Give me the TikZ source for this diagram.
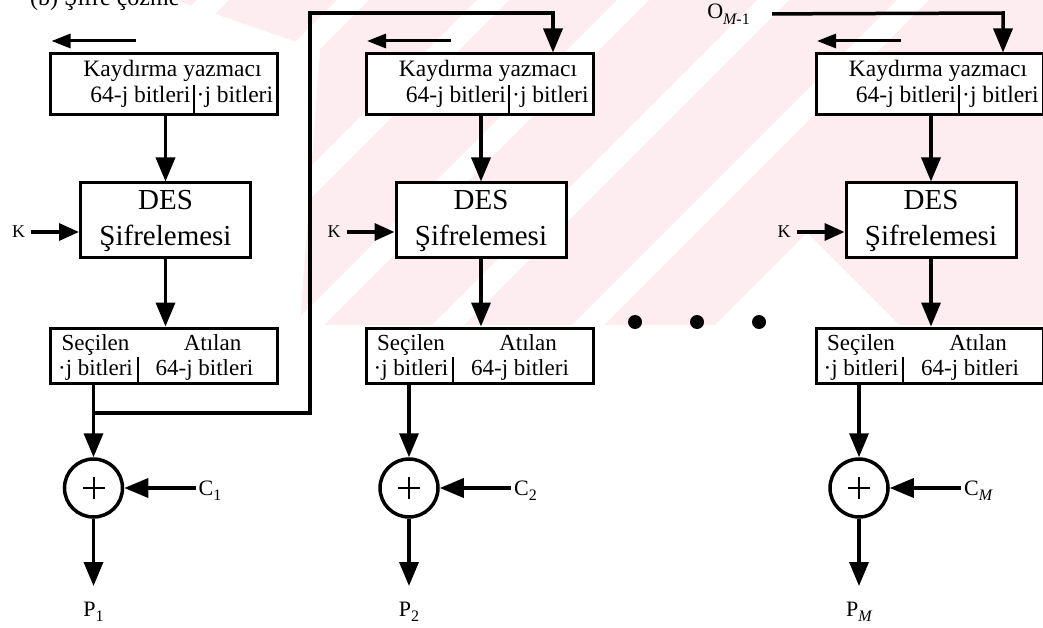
\documentclass[tikz,border=0pt]{standalone}
\usepackage{fontspec}
\setmainfont{Liberation Serif}
\usetikzlibrary{arrows.meta}

\definecolor{wmpink}{RGB}{253,236,240}

\newcommand\subs[1]{\raisebox{-0.25em}{\fontsize{16}{16}\selectfont #1}}
\newcommand\regfont{\fontsize{23.5}{26}\selectfont}
\newcommand\selfont{\fontsize{23}{26}\selectfont}
\newcommand\desfont{\fontsize{29}{32}\selectfont}
\newcommand\lblfont{\fontsize{22}{24}\selectfont}
\newcommand\kfont{\fontsize{18}{20}\selectfont}

\tikzset{
  blockbox/.style={draw, fill=white, line width=3pt, inner sep=0pt},
  wire/.style={line width=3.5pt},
  fwd/.style={-{Triangle[length=24pt,width=19pt]}},
  kfwd/.style={-{Triangle[length=20pt,width=17pt]}},
  shiftarrow/.style={line width=3pt, -{Triangle[length=19pt,width=14pt]}},
  txt/.style={inner sep=0pt, anchor=base},
  divider/.style={line width=2pt},
}

% One decryption stage of the CFB chain.
% #1 name prefix, #2 centre x of the DES block, #3 ciphertext label, #4 plaintext label
\newcommand\cfbstage[4]{%
  % shift register
  \node[blockbox, minimum width=227pt, minimum height=61pt] (#1reg) at ({#2-1.5},84.5) {};
  \node[txt] (#1rega) at ({#2+7},77) {\regfont Kaydırma yazmacı};
  \node[txt, anchor=base east] (#1regb) at ({#2+25},103) {\regfont 64-j bitleri};
  \node[txt, anchor=base west] (#1regc) at ({#2+31},103) {\regfont ·j bitleri};
  \coordinate (#1bar) at ({#2+28},85);
  \draw[divider] (#1bar) -- (#1bar |- #1reg.south);
  % shift direction
  \coordinate (#1sa) at ({#2-30},41);
  \coordinate (#1sb) at ({#2-114},41);
  \draw[shiftarrow] (#1sa) -- (#1sb);
  \coordinate (#1in) at ({#2+72},13);
  % DES block
  \node[blockbox, minimum width=170pt, minimum height=74pt] (#1des) at (#2,220) {};
  \node[txt] (#1desa) at (#2,210) {\desfont DES};
  \node[txt] (#1desb) at (#2,245) {\desfont Şifrelemesi};
  \draw[wire,fwd] (#1reg.south -| #1des) -- (#1des.north);
  % key input
  \node[inner sep=2pt] (#1k) at ({#2-147},232) {\kfont K};
  \draw[wire,kfwd,shorten <=4pt] (#1k.east) -- (#1k.east -| #1des.west);
  % select / discard
  \node[blockbox, minimum width=227pt, minimum height=55pt] (#1sel) at ({#2-1.5},355.5) {};
  \node[txt] (#1sela) at ({#2-70},350) {\selfont Seçilen};
  \node[txt] (#1selb) at ({#2-70},375) {\selfont ·j bitleri};
  \node[txt] (#1selc) at ({#2+47},350) {\selfont Atılan};
  \node[txt] (#1seld) at ({#2+39},375) {\selfont 64-j bitleri};
  \coordinate (#1sbar) at ({#2-28},357);
  \draw[divider] (#1sbar) -- (#1sbar |- #1sel.south);
  \draw[wire,fwd] (#1des.south) -- (#1sel.north -| #1des);
  % XOR
  \node[circle, draw, line width=3.5pt, minimum size=58pt, inner sep=0pt, fill=white] (#1x) at ({#2-72},488) {};
  \draw[line width=2pt] ([xshift=-11pt]#1x.center) -- ([xshift=11pt]#1x.center);
  \draw[line width=2pt] ([yshift=-11pt]#1x.center) -- ([yshift=11pt]#1x.center);
  \draw[wire,fwd] (#1sel.south -| #1x) -- (#1x.north);
  \node[anchor=base west, inner sep=0pt] (#1c) at ({#2+33},495) {\lblfont #3};
  \draw[wire,fwd,shorten <=3pt] (#1x.east -| #1c.west) -- (#1x.east);
  \node[anchor=base, inner sep=0pt] (#1p) at ({#2-72},616) {\lblfont #4};
  \coordinate (#1tip) at ({#2-72},586);
  \draw[wire,fwd] (#1x.south) -- (#1tip);
}

\begin{document}
\begin{tikzpicture}[x=1pt, y=-1pt]
  \useasboundingbox (0,0) rectangle (1043,628);

  % faint striped backdrop
  \begin{scope}
    \clip (175,0) -- (1043,0) -- (1043,325) -- (300,325) -- (320,50) -- cycle;
    \fill[wmpink] (0,0) rectangle (1043,325);
    \foreach \c in {213,353,493,633,773,913}
      \fill[white] ({\c-16},0) -- ({\c+16},0) -- ({\c+16-325},325) -- ({\c-16-325},325) -- cycle;
    \fill[white] (807,233) -- (715,325) -- (899,325) -- cycle;
  \end{scope}

  \node[anchor=base west, inner sep=0pt] (title) at (30,6) {\fontsize{24}{26}\selectfont (b) Şifre çözme};

  \cfbstage{sa}{165.5}{C\subs{1}}{P\subs{1}}
  \cfbstage{sb}{481}{C\subs{2}}{P\subs{2}}
  \cfbstage{sc}{931}{C\subs{\itshape M}}{P\subs{\itshape M}}

  % feedback of the selected bits into the next register
  \coordinate (fbbranch) at (93.5,413);
  \coordinate (fbup) at (310,413);
  \coordinate (fbtop) at (310,13);
  \draw[wire,fwd,line join=miter] (fbbranch) -- (fbup) -- (fbtop) -- (sbin) -- (sbin |- sbreg.north);

  % input of the last register
  \node[anchor=east, inner sep=0pt] (om) at (750,14) {\lblfont O\subs{\itshape M\upshape -1}};
  \draw[wire,fwd,shorten <=22pt,line join=miter] (om.east) -- (scin) -- (scin |- screg.north);

  % ellipsis between stages
  \node[circle, fill, inner sep=0pt, minimum size=14pt] (dotA) at (635,322) {};
  \node[circle, fill, inner sep=0pt, minimum size=14pt] (dotB) at (697,322) {};
  \node[circle, fill, inner sep=0pt, minimum size=14pt] (dotC) at (759,322) {};
\end{tikzpicture}
\end{document}
